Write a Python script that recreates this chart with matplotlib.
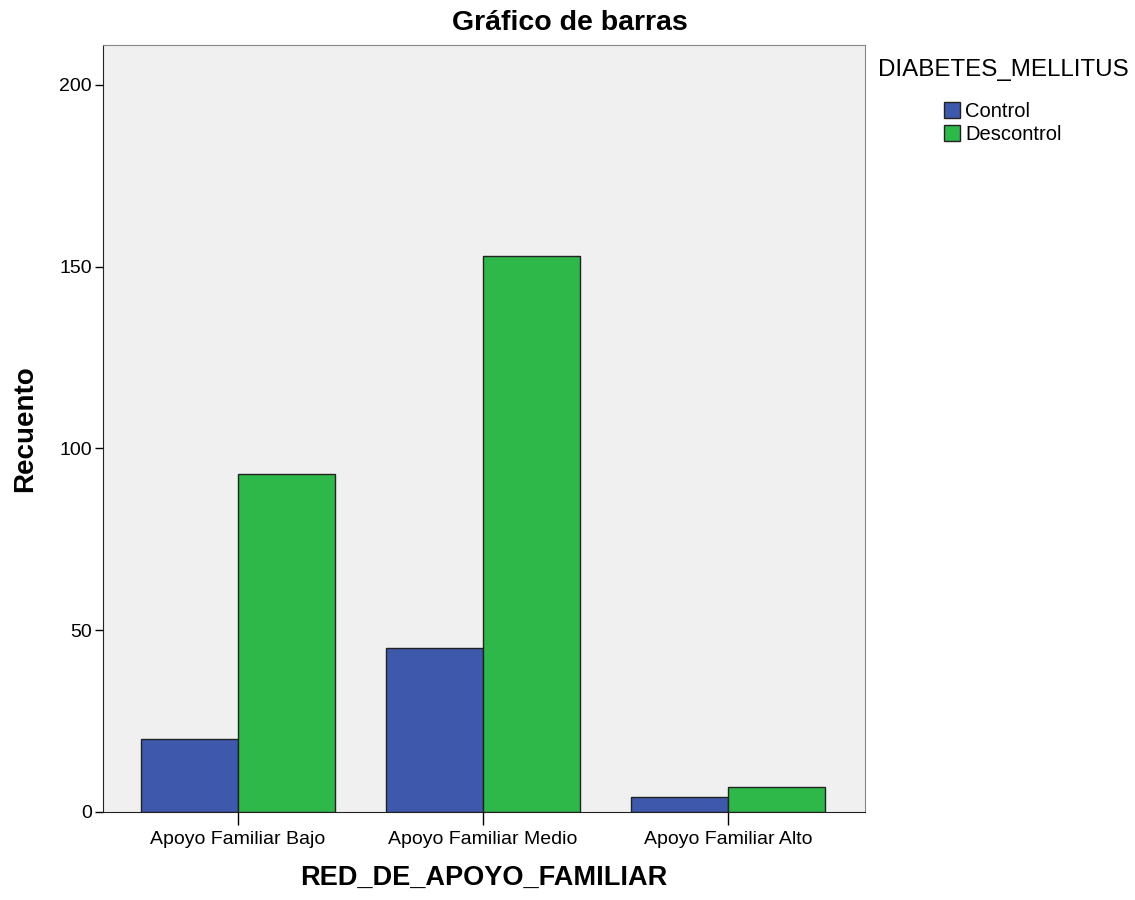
import matplotlib.pyplot as plt
import numpy as np

# Data
categories = ['Apoyo Familiar Bajo', 'Apoyo Familiar Medio', 'Apoyo Familiar Alto']
series_names = ['Control', 'Descontrol']
control = [20, 45, 4]
descontrol = [93, 153, 7]
colors = ['#3E58AC', '#2EB84A']

plt.rcParams['font.family'] = ['Liberation Sans', 'DejaVu Sans']

fig = plt.figure(figsize=(11.35, 9), dpi=100)
ax = fig.add_axes([0.0907, 0.0978, 0.6714, 0.8522])
ax.set_facecolor('#F0F0F0')

x = np.arange(len(categories))
width = 0.396
ax.bar(x - width / 2, control, width, color=colors[0], edgecolor='#222222', linewidth=1, label=series_names[0])
ax.bar(x + width / 2, descontrol, width, color=colors[1], edgecolor='#222222', linewidth=1, label=series_names[1])

ax.set_xlim(-0.551, 2.559)
ax.set_ylim(0, 211)
ax.set_yticks([0, 50, 100, 150, 200])
ax.set_xticks(x)
ax.set_xticklabels(categories)
ax.tick_params(axis='y', length=6, width=1, labelsize=14, pad=2)
ax.tick_params(axis='x', length=9, width=1, labelsize=14, pad=5)

for side in ['top', 'right']:
    ax.spines[side].set_color('#888888')
for side in ['left', 'bottom']:
    ax.spines[side].set_color('#222222')

ax.set_xlabel('RED_DE_APOYO_FAMILIAR', fontsize=19.5, fontweight='bold', labelpad=12)
ax.set_ylabel('Recuento', fontsize=20, fontweight='bold', labelpad=15)
fig.text(0.502, 0.975, 'Gráfico de barras', ha='center', va='center', fontsize=20.5, fontweight='bold')

# legend title drawn separately so the gap above the entries matches
fig.text(1003 / 1135, 1 - 70 / 900, 'DIABETES_MELLITUS', ha='center', va='center', fontsize=17.4)
leg = ax.legend(loc='upper center', bbox_to_anchor=(1003 / 1135, 1 - 92 / 900),
                bbox_transform=fig.transFigure, frameon=False, fontsize=14.5,
                handlelength=0.8, handleheight=0.8, handletextpad=0.25, labelspacing=0.2,
                borderpad=0)
for h in leg.legend_handles:
    h.set_edgecolor('#222222')

fig.savefig('out.png', dpi=100)
